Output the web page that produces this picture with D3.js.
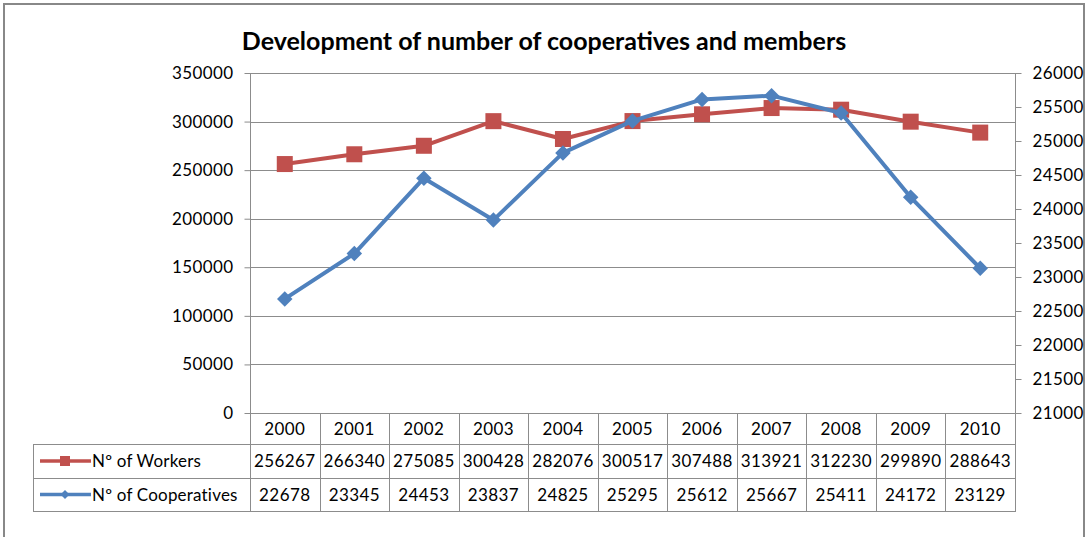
<!DOCTYPE html>
<html>
<head>
<meta charset="utf-8">
<script src="https://cdn.jsdelivr.net/npm/d3@7"></script>
<style>
  html, body { margin: 0; padding: 0; background: #fff; }
  svg text { font-family: Lato, "Open Sans", sans-serif; fill: #000; }
  .lbl { font-size: 17px; letter-spacing: 0.4px; }
</style>
</head>
<body>
<svg id="chart" width="1086" height="537"></svg>
<script>
// Chart data
const years = ["2000","2001","2002","2003","2004","2005","2006","2007","2008","2009","2010"];
const workers = [256267,266340,275085,300428,282076,300517,307488,313921,312230,299890,288643];
const cooperatives = [22678,23345,24453,23837,24825,25295,25612,25667,25411,24172,23129];
const leftTicks = [0,50000,100000,150000,200000,250000,300000,350000];
const rightTicks = [21000,21500,22000,22500,23000,23500,24000,24500,25000,25500,26000];
const seriesNames = ["Nº of Workers", "Nº of Cooperatives"];

const RED = "#C0504D", BLUE = "#4F81BD", GRID = "#8c8c8c";
const svg = d3.select("#chart");

// frame
svg.append("rect").attr("x", 4).attr("y", 4).attr("width", 1080).attr("height", 560)
  .attr("fill", "none").attr("stroke", "#888").attr("stroke-width", 2);

const plot = { left: 250, right: 1015, top: 73, bottom: 413 };

const x = d3.scaleBand().domain(years).range([plot.left, plot.right]);
const yL = d3.scaleLinear().domain([0, 350000]).range([plot.bottom, plot.top]);
const yR = d3.scaleLinear().domain([21000, 26000]).range([plot.bottom, plot.top]);

// title
svg.append("text").attr("x", 544).attr("y", 50).attr("text-anchor", "middle")
  .style("font-size", "25px").style("font-weight", "bold")
  .text("Development of number of cooperatives and members");

// horizontal gridlines
svg.append("g").selectAll("line").data(leftTicks.filter(d => d > 0)).join("line")
  .attr("x1", plot.left).attr("x2", plot.right)
  .attr("y1", d => Math.round(yL(d)) + 0.5).attr("y2", d => Math.round(yL(d)) + 0.5)
  .attr("stroke", GRID).attr("stroke-width", 1);

// left axis
const axL = svg.append("g").attr("transform", `translate(${plot.left + 0.5},0)`)
  .call(d3.axisLeft(yL).tickValues(leftTicks).tickFormat(d3.format("d")).tickSize(6).tickPadding(11));
axL.select(".domain").attr("stroke", GRID).attr("d", `M0,${plot.top}V${plot.bottom}`);
axL.selectAll(".tick line").attr("stroke", GRID);
axL.selectAll("text").attr("class", "lbl").attr("font-family", null).attr("font-size", null).attr("fill", "#000");

// right axis
const axR = svg.append("g").attr("transform", `translate(${plot.right + 0.5},0)`)
  .call(d3.axisRight(yR).tickValues(rightTicks).tickFormat(d3.format("d")).tickSize(6).tickPadding(11));
axR.select(".domain").attr("stroke", GRID).attr("d", `M0,${plot.top}V${plot.bottom + 98}`);
axR.selectAll(".tick line").attr("stroke", GRID);
axR.selectAll("text").attr("class", "lbl").attr("font-family", null).attr("font-size", null).attr("fill", "#000");

// data table
const rowTop = [plot.bottom, 444, 478, 511];
const tableLeft = 33;
const tg = svg.append("g");
const bounds = years.map(y => x(y)).concat([plot.right]);
// vertical lines through the table
bounds.forEach(bx => {
  tg.append("line").attr("x1", Math.round(bx) + 0.5).attr("x2", Math.round(bx) + 0.5)
    .attr("y1", rowTop[0]).attr("y2", rowTop[3]).attr("stroke", GRID);
});
tg.append("line").attr("x1", tableLeft + 0.5).attr("x2", tableLeft + 0.5)
  .attr("y1", rowTop[1]).attr("y2", rowTop[3]).attr("stroke", GRID);
// horizontal lines
tg.append("line").attr("x1", plot.left).attr("x2", plot.right).attr("y1", rowTop[0] + 0.5).attr("y2", rowTop[0] + 0.5).attr("stroke", GRID);
[1, 2, 3].forEach(r => {
  tg.append("line").attr("x1", tableLeft).attr("x2", plot.right + 1)
    .attr("y1", rowTop[r] + 0.5).attr("y2", rowTop[r] + 0.5).attr("stroke", GRID);
});
// header years
tg.selectAll("text.yr").data(years).join("text").attr("class", "yr lbl")
  .attr("x", d => x(d) + x.bandwidth() / 2).attr("y", (rowTop[0] + rowTop[1]) / 2 + 6)
  .attr("text-anchor", "middle").text(d => d);
// value rows
[workers, cooperatives].forEach((vals, r) => {
  tg.selectAll(`text.v${r}`).data(vals).join("text").attr("class", `v${r} lbl`)
    .attr("x", (d, i) => x(years[i]) + x.bandwidth() / 2)
    .attr("y", (rowTop[r + 1] + rowTop[r + 2]) / 2 + 6)
    .attr("text-anchor", "middle").text(d => d);
});

// legend keys in the table
[[RED, "square"], [BLUE, "diamond"]].forEach(([c, m], r) => {
  const cy = (rowTop[r + 1] + rowTop[r + 2]) / 2;
  tg.append("line").attr("x1", 40).attr("x2", 91).attr("y1", cy).attr("y2", cy)
    .attr("stroke", c).attr("stroke-width", 3.5);
  if (m === "square") {
    tg.append("rect").attr("x", 60).attr("y", cy - 5).attr("width", 10).attr("height", 10).attr("fill", c);
  } else {
    tg.append("path").attr("transform", `translate(65,${cy}) rotate(45)`)
      .attr("d", d3.symbol().type(d3.symbolSquare).size(40)()).attr("fill", c);
  }
  tg.append("text").attr("class", "lbl").attr("x", 92).attr("y", cy + 6)
    .style("letter-spacing", "0.2px").text(seriesNames[r]);
});

// series
const cx = d => x(d) + x.bandwidth() / 2;
const lineW = d3.line().x((d, i) => cx(years[i])).y(d => yL(d));
const lineC = d3.line().x((d, i) => cx(years[i])).y(d => yR(d));

svg.append("path").datum(workers).attr("d", lineW).attr("fill", "none")
  .attr("stroke", RED).attr("stroke-width", 4).attr("stroke-linejoin", "round");
svg.append("g").selectAll("rect").data(workers).join("rect")
  .attr("x", (d, i) => cx(years[i]) - 8).attr("y", d => yL(d) - 8)
  .attr("width", 16).attr("height", 16).attr("fill", RED);

svg.append("path").datum(cooperatives).attr("d", lineC).attr("fill", "none")
  .attr("stroke", BLUE).attr("stroke-width", 4).attr("stroke-linejoin", "round");
svg.append("g").selectAll("path").data(cooperatives).join("path")
  .attr("transform", (d, i) => `translate(${cx(years[i])},${yR(d)}) rotate(45)`)
  .attr("d", d3.symbol().type(d3.symbolSquare).size(120)()).attr("fill", BLUE);
</script>
</body>
</html>
